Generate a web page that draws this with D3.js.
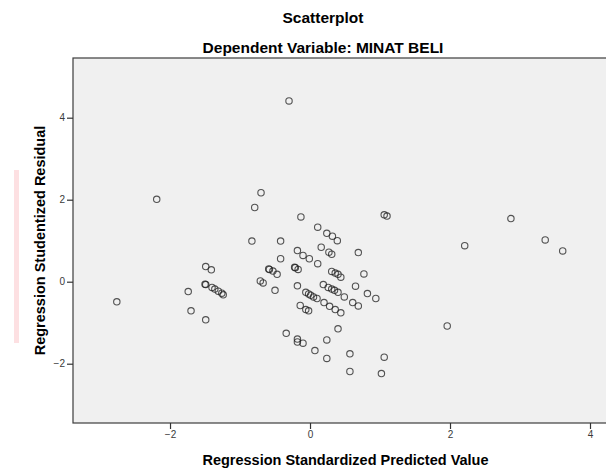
<!DOCTYPE html>
<html>
<head>
<meta charset="utf-8">
<script src="https://cdn.jsdelivr.net/npm/d3@7"></script>
<style>
  body { margin: 0; background: #fff; }
  text { font-family: "Liberation Sans", Arial, sans-serif; }
</style>
</head>
<body>
<div id="chart"></div>
<script>
// data: standardized predicted value vs studentized residual
var predicted = [-0.30, -2.19, -0.70, -0.79, -0.13, 0.11, 0.24, 0.32, 0.39, -0.83,
                 -0.42, 0.16, -0.18, -0.10, -0.01, 0.27, 0.31, 0.69, 0.11, -0.22,
                 -0.21, -0.17, 0.31, 0.36, 0.40, 0.44, 0.77, -0.18, 0.19, 0.26,
                 0.31, 0.35, 0.40, 0.49, 0.65, 0.82, 0.94, 0.61, 0.69, -0.06,
                 -0.02, 0.01, 0.05, 0.10, 0.20, 0.28, 0.36, 0.44, -0.14, -0.06,
                 -0.02, -0.34, -0.18, -0.18, -0.10, 0.07, 0.24, 0.24, 0.40, 0.57,
                 0.57, 1.06, 1.02, 1.96, 2.21, 3.36, 3.61, 1.06, 1.10, 2.87,
                 -0.42, -0.59, -0.58, -0.53, -0.47, -0.71, -0.67, -0.50, -2.76, -1.74,
                 -1.70, -1.49, -1.49, -1.41, -1.50, -1.49, -1.40, -1.36, -1.31, -1.26,
                 -1.24];
var residual = [4.41, 2.01, 2.17, 1.81, 1.58, 1.33, 1.18, 1.11, 1.00, 0.99,
                0.99, 0.84, 0.76, 0.64, 0.56, 0.72, 0.67, 0.71, 0.44, 0.35,
                0.34, 0.30, 0.25, 0.21, 0.18, 0.11, 0.19, -0.10, -0.07, -0.14,
                -0.18, -0.21, -0.26, -0.37, -0.11, -0.29, -0.41, -0.51, -0.59, -0.26,
                -0.30, -0.33, -0.37, -0.41, -0.51, -0.60, -0.68, -0.76, -0.58, -0.68,
                -0.71, -1.26, -1.40, -1.47, -1.50, -1.68, -1.42, -1.87, -1.15, -1.76,
                -2.19, -1.84, -2.24, -1.08, 0.88, 1.02, 0.75, 1.63, 1.60, 1.54,
                0.56, 0.31, 0.30, 0.26, 0.18, 0.02, -0.03, -0.21, -0.49, -0.24,
                -0.71, -0.93, 0.37, 0.29, -0.06, -0.07, -0.14, -0.18, -0.23, -0.28,
                -0.32];
var xTicks = [-2, 0, 2, 4];
var yTicks = [-2, 0, 2, 4];

var width = 606,
    height = 470;
var plot = {left: 73, right: 618, top: 58, bottom: 423};

var svg = d3.select('#chart')
            .append('svg')
            .attr('width', width)
            .attr('height', height);

var x = d3.scaleLinear().domain([-3.386, 4.4]).range([plot.left, plot.right]);
var y = d3.scaleLinear().domain([-3.446, 5.456]).range([plot.bottom, plot.top]);

// plot background
svg.append('rect')
   .attr('x', plot.left)
   .attr('y', plot.top)
   .attr('width', plot.right - plot.left)
   .attr('height', plot.bottom - plot.top)
   .attr('fill', '#f0f0f0')
   .attr('stroke', '#3c3c3c')
   .attr('stroke-width', 1.2);

// axes
var xAxis = d3.axisBottom(x).tickValues(xTicks).tickSize(6).tickPadding(2);
var yAxis = d3.axisLeft(y).tickValues(yTicks).tickSize(6).tickPadding(2);

var gx = svg.append('g')
            .attr('transform', 'translate(0,' + plot.bottom + ')')
            .call(xAxis);
var gy = svg.append('g')
            .attr('transform', 'translate(' + plot.left + ',0)')
            .call(yAxis);

[gx, gy].forEach(function(g){
    g.select('.domain').remove();
    g.selectAll('line').attr('stroke', '#333').attr('stroke-width', 1.2);
    g.selectAll('text')
     .style('font-size', '10px')
     .attr('fill', '#3a3a3a');
});

// points
svg.append('g')
   .selectAll('circle')
   .data(predicted.map(function(d, i){ return [d, residual[i]]; }))
   .enter()
   .append('circle')
   .attr('cx', function(d){ return x(d[0]); })
   .attr('cy', function(d){ return y(d[1]); })
   .attr('r', 3.2)
   .attr('fill', 'none')
   .attr('stroke', '#1e1e1e')
   .attr('stroke-opacity', 0.75)
   .attr('stroke-width', 1.1);

// titles
svg.append('text')
   .attr('x', 323)
   .attr('y', 23)
   .style('text-anchor', 'middle')
   .style('font-weight', 'bold')
   .style('font-size', '15.5px')
   .text('Scatterplot');

svg.append('text')
   .attr('x', 323)
   .attr('y', 53)
   .style('text-anchor', 'middle')
   .style('font-weight', 'bold')
   .style('font-size', '15.5px')
   .text('Dependent Variable: MINAT BELI');

svg.append('text')
   .attr('x', (plot.left + plot.right) / 2)
   .attr('y', 465)
   .style('text-anchor', 'middle')
   .style('font-weight', 'bold')
   .style('font-size', '14.5px')
   .text('Regression Standardized Predicted Value');

svg.append('text')
   .attr('transform', 'translate(45,' + (plot.top + plot.bottom) / 2 + ') rotate(-90)')
   .style('text-anchor', 'middle')
   .style('font-weight', 'bold')
   .style('font-size', '14.5px')
   .text('Regression Studentized Residual');

// faint pink marker next to the y title (as in the source image)
svg.append('rect')
   .attr('x', 14)
   .attr('y', 170)
   .attr('width', 5)
   .attr('height', 173)
   .attr('fill', '#fde0e2');
</script>
</body>
</html>
